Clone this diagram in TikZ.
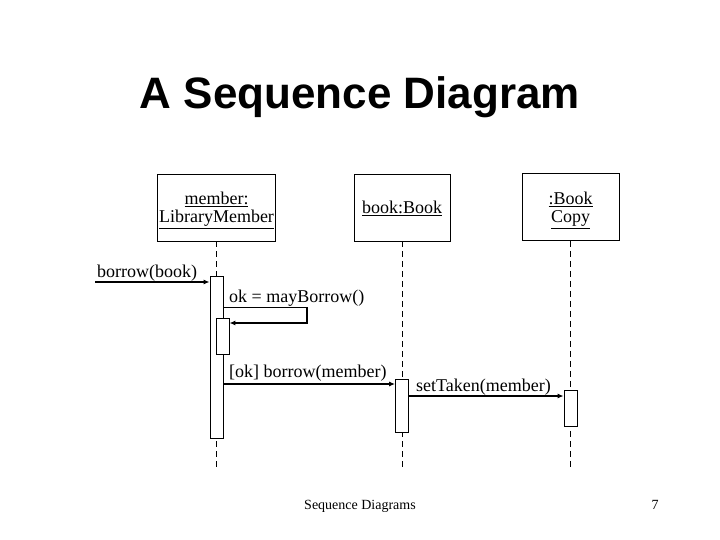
\documentclass[tikz,border=0pt]{standalone}
\usepackage{fontspec}
\setmainfont{Liberation Serif}
\newfontfamily\titlefont{Liberation Sans}
\usetikzlibrary{arrows.meta}
\newcommand{\ul}[1]{\underline{#1}}
\begin{document}
\begin{tikzpicture}[x=1pt,y=-1pt,
  objbox/.style={draw,line width=0.8pt,inner sep=0pt,minimum height=67pt},
  boxtxt/.style={inner sep=0pt,anchor=base,font=\fontsize{18}{18}\selectfont},
  actbox/.style={draw,fill=white,line width=0.8pt,inner sep=0pt,minimum width=13pt,anchor=north},
  lifeline/.style={dashed,dash pattern=on 6pt off 4pt,line width=0.8pt},
  msg/.style={line width=1.8pt,-{Latex[length=6pt,width=5pt]}},
  lbl/.style={inner sep=0pt,anchor=base west,font=\fontsize{18}{18}\selectfont}]
\useasboundingbox (0,0) rectangle (720,540);
\fill[white] (0,0) rectangle (720,540);
\node[anchor=base,font=\titlefont\bfseries\fontsize{44}{44}\selectfont] (title) at (360,109) {A Sequence Diagram};
% objects
\node[objbox,minimum width=118pt] (m) at (216.5,207.5) {};
\node[boxtxt] (m1) at (216.5,204.5) {\ul{member:}};
\node[boxtxt] (m2) at (216.5,222.5) {\ul{LibraryMember}};
\node[objbox,minimum width=96pt] (b) at (402,207.5) {};
\node[boxtxt] (b1) at (402,213.5) {\ul{book:Book}};
\node[objbox,minimum width=97pt] (c) at (570.5,207) {};
\node[boxtxt] (c1) at (570.5,204.5) {\ul{:Book}};
\node[boxtxt] (c2) at (570.5,222.5) {\ul{Copy}};
% lifelines
\coordinate (me) at (216.5,468);
\coordinate (be) at (402,468);
\coordinate (ce) at (570.5,468);
\draw[lifeline] (m.south) -- (me);
\draw[lifeline] (b.south) -- (be);
\draw[lifeline] (c.south) -- (ce);
% activations
\node[actbox,minimum height=162pt] (a1) at (216.5,276) {};
\node[actbox,minimum height=36pt] (a1n) at (222.5,318) {};
\node[actbox,minimum height=53pt] (a2) at (402,379) {};
\node[actbox,minimum height=36pt] (a3) at (570.5,390) {};
% messages
\coordinate (s0) at (95,282);
\draw[msg] (s0) -- (s0 -| a1.west);
\node[lbl] (l0) at (97,277) {borrow(book)};
\coordinate (s1) at (307,307);
\coordinate (s2) at (307,323);
\draw[line width=0.8pt] (a1.east |- s1) -- (s1);
\draw[msg] (s1) -- (s2) -- (s2 -| a1n.east);
\node[lbl] (l1) at (229,302) {ok = mayBorrow()};
\coordinate (s3) at (0,384);
\draw[msg] (a1.east |- s3) -- (a2.west |- s3);
\node[lbl] (l2) at (229,377) {[ok] borrow(member)};
\coordinate (s4) at (0,396);
\draw[msg] (a2.east |- s4) -- (a3.west |- s4);
\node[lbl] (l3) at (416,391) {setTaken(member)};
% footer
\node[anchor=base,inner sep=0pt,font=\fontsize{14}{14}\selectfont] (foot) at (360,509) {Sequence Diagrams};
\node[anchor=base,inner sep=0pt,font=\fontsize{14}{14}\selectfont] (pg) at (655,509) {7};
\end{tikzpicture}
\end{document}
